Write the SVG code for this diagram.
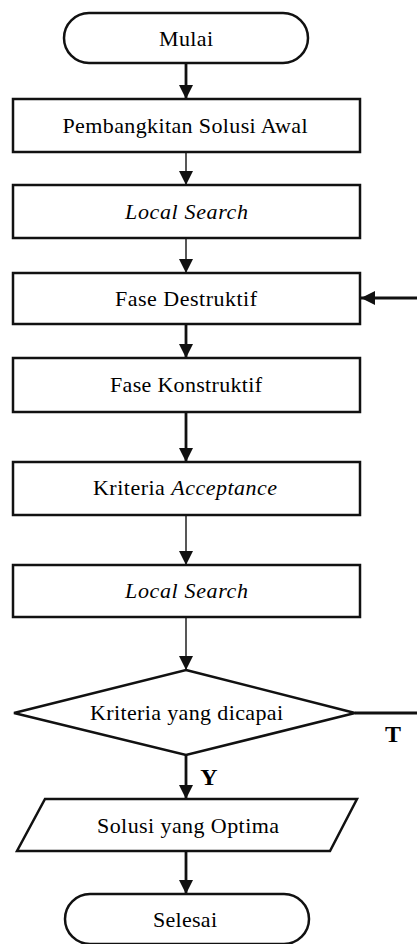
<svg xmlns="http://www.w3.org/2000/svg" width="417" height="944" viewBox="0 0 417 944">
<style>
.shape{fill:#fff;stroke:#111;stroke-width:2.5;stroke-linejoin:miter}
.t{font-family:"Liberation Serif","Times New Roman",serif;font-size:22px;fill:#000;text-anchor:middle}
.i{font-style:italic}
.b{font-weight:bold;font-size:24px}
.thick{stroke:#111;stroke-width:2.8;fill:none}
.thin{stroke:#111;stroke-width:1.4;fill:none}
</style>
<defs>
<marker id="ah" markerUnits="userSpaceOnUse" markerWidth="14" markerHeight="14" viewBox="0 0 12 12" refX="12" refY="6" orient="auto">
<path d="M0,0 L12,6 L0,12 Z" fill="#111"/>
</marker>
</defs>
<rect width="417" height="944" fill="#fff"/>
<g id="connectors">
<line class="thick" x1="186" y1="63" x2="186" y2="99" marker-end="url(#ah)"/>
<line class="thin" x1="186" y1="152" x2="186" y2="185" marker-end="url(#ah)"/>
<line class="thin" x1="186" y1="238" x2="186" y2="273" marker-end="url(#ah)"/>
<line class="thick" x1="186" y1="324" x2="186" y2="358" marker-end="url(#ah)"/>
<line class="thick" x1="186" y1="412" x2="186" y2="462" marker-end="url(#ah)"/>
<line class="thin" x1="186" y1="515" x2="186" y2="565" marker-end="url(#ah)"/>
<line class="thin" x1="186" y1="617" x2="186" y2="670" marker-end="url(#ah)"/>
<line class="thick" x1="186" y1="755" x2="186" y2="799" marker-end="url(#ah)"/>
<line class="thick" x1="186" y1="851" x2="186" y2="894" marker-end="url(#ah)"/>
<path class="thick" d="M355,713 H422 V298 H361" marker-end="url(#ah)"/>
<text class="t b" x="393" y="742">T</text>
<text class="t b" x="209" y="785">Y</text>
</g>
<g id="mulai">
<rect class="shape" x="64" y="13" width="244" height="50" rx="25" ry="25"/>
<text class="t" x="186" y="46" textLength="54" lengthAdjust="spacing">Mulai</text>
</g>
<g id="solusi-awal">
<rect class="shape" x="13" y="99" width="347" height="53"/>
<text class="t" x="185" y="133" textLength="245" lengthAdjust="spacing">Pembangkitan Solusi Awal</text>
</g>
<g id="local-search-1">
<rect class="shape" x="13" y="185" width="347" height="53"/>
<text class="t i" x="186.5" y="219" textLength="123" lengthAdjust="spacing">Local Search</text>
</g>
<g id="fase-destruktif">
<rect class="shape" x="13" y="273" width="347" height="51"/>
<text class="t" x="186" y="306" textLength="142" lengthAdjust="spacing">Fase Destruktif</text>
</g>
<g id="fase-konstruktif">
<rect class="shape" x="13" y="358" width="347" height="54"/>
<text class="t" x="186" y="392" textLength="152" lengthAdjust="spacing">Fase Konstruktif</text>
</g>
<g id="kriteria-acceptance">
<rect class="shape" x="13" y="462" width="347" height="53"/>
<text class="t" x="185" y="495" textLength="184" lengthAdjust="spacing">Kriteria <tspan class="i">Acceptance</tspan></text>
</g>
<g id="local-search-2">
<rect class="shape" x="13" y="565" width="347" height="52"/>
<text class="t i" x="186.5" y="598" textLength="123" lengthAdjust="spacing">Local Search</text>
</g>
<g id="kriteria-dicapai">
<polygon class="shape" points="186,670 355,713 186,755 14,713"/>
<text class="t" x="186.5" y="720" textLength="193" lengthAdjust="spacing">Kriteria yang dicapai</text>
</g>
<g id="solusi-optima">
<polygon class="shape" points="45,799 357,799 330,851 17,851"/>
<text class="t" x="188" y="833" textLength="182" lengthAdjust="spacing">Solusi yang Optima</text>
</g>
<g id="selesai">
<rect class="shape" x="65" y="894" width="244" height="50" rx="25" ry="25"/>
<text class="t" x="185" y="927" textLength="64" lengthAdjust="spacing">Selesai</text>
</g>
</svg>
